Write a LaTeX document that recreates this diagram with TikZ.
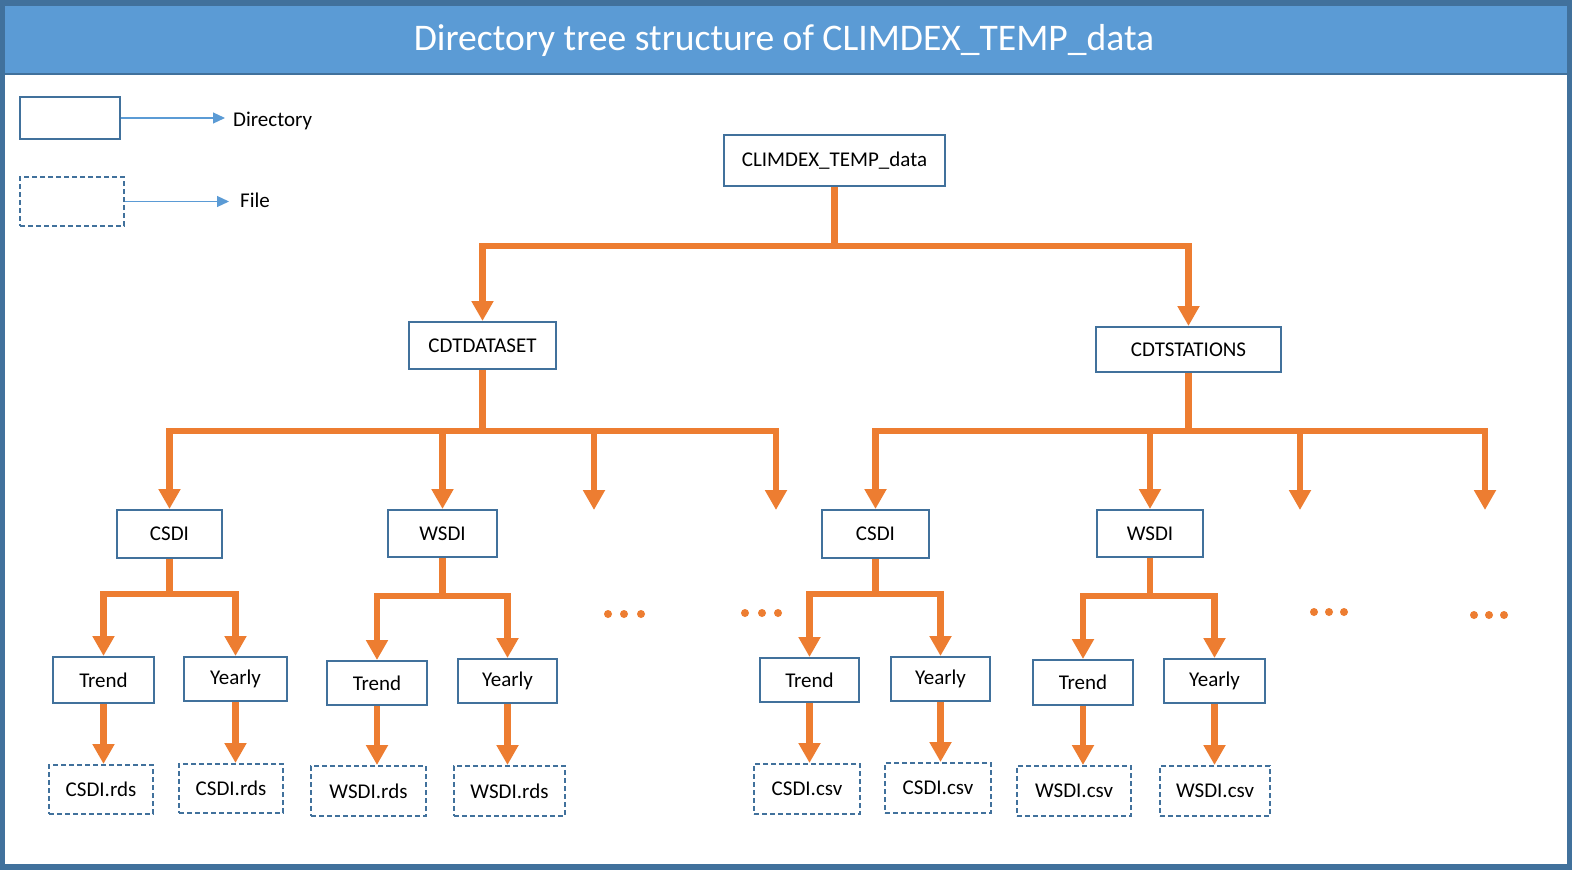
\documentclass[tikz,border=0pt]{standalone}
\usepackage{fontspec}
\setmainfont{Carlito}
\usetikzlibrary{arrows.meta}
\definecolor{frame}{HTML}{41719C}
\definecolor{titlebg}{HTML}{5B9BD5}
\definecolor{org}{HTML}{ED7D31}
\tikzset{
  dirbox/.style={draw=frame, line width=2pt, inner sep=0pt, font=\fontsize{21}{25}\selectfont, fill=white},
  filebox/.style={dirbox, dash pattern=on 5pt off 3pt},
  conn/.style={draw=org, line width=6.5pt, -{Triangle[length=20pt,width=21pt]}},
  legarrow/.style={draw=titlebg, line width=1.2pt, -{Triangle[length=12pt,width=11pt]}},
  dot/.style={fill=org, draw=none}
}
\newcommand{\bx}[6]{\node[#1, minimum width=#4pt, minimum height=#5pt] (#2) at (#3) {#6};}
\begin{document}
\begin{tikzpicture}[x=1pt,y=-1pt]
\useasboundingbox (0,0) rectangle (1572,870);
% frame
\fill[frame] (0,0) rectangle (1572,870);
\fill[titlebg] (5,6) rectangle (1567,73);
\fill[white] (5,75) rectangle (1567,864);
\node[text=white, font=\fontsize{37.6}{44}\selectfont, anchor=center] (title) at (784,40) {Directory tree structure of CLIMDEX\_TEMP\_data};
% legend
\bx{dirbox}{legd}{70,118}{100}{42}{}
\bx{filebox}{legf}{72,201.5}{104}{49}{}
\node[anchor=west, inner sep=0pt, font=\fontsize{21}{25}\selectfont] (ldir) at (233,121) {Directory};
\node[anchor=west, inner sep=0pt, font=\fontsize{21}{25}\selectfont] (lfile) at (240,200) {File};
\draw[legarrow, shorten >=8pt] (legd.east) -- (legd.east -| ldir.west);
\draw[legarrow, shorten >=11pt] (legf.east) -- (legf.east -| lfile.west);
% nodes
\bx{dirbox}{root}{834.5,160.5}{221}{51}{CLIMDEX\_TEMP\_data}
\bx{dirbox}{cdtd}{482.5,345.5}{147}{47}{CDTDATASET}
\bx{dirbox}{cdts}{1188.5,349.5}{185}{45}{CDTSTATIONS}
\bx{dirbox}{csdiL}{169.5,534}{105}{48}{CSDI}
\bx{dirbox}{wsdiL}{442.5,533.5}{109}{47}{WSDI}
\bx{dirbox}{csdiR}{875.5,534}{107}{48}{CSDI}
\bx{dirbox}{wsdiR}{1150,533.5}{106}{47}{WSDI}
\bx{dirbox}{t1}{103.5,680}{101}{46}{Trend}
\bx{dirbox}{y1}{235.5,679}{103}{44}{Yearly}
\bx{dirbox}{t2}{377,683}{100}{44}{Trend}
\bx{dirbox}{y2}{507.5,681}{99}{44}{Yearly}
\bx{dirbox}{t3}{809.5,680}{99}{44}{Trend}
\bx{dirbox}{y3}{940.5,679}{99}{44}{Yearly}
\bx{dirbox}{t4}{1083,682.5}{100}{45}{Trend}
\bx{dirbox}{y4}{1214.5,681}{101}{44}{Yearly}
\bx{filebox}{f1}{101,789.5}{104}{49}{CSDI.rds}
\bx{filebox}{f2}{231,788.5}{104}{49}{CSDI.rds}
\bx{filebox}{f3}{368.5,791}{115}{50}{WSDI.rds}
\bx{filebox}{f4}{509.5,791}{111}{50}{WSDI.rds}
\bx{filebox}{f5}{807,789}{106}{50}{CSDI.csv}
\bx{filebox}{f6}{938,788}{106}{50}{CSDI.csv}
\bx{filebox}{f7}{1074,791}{114}{50}{WSDI.csv}
\bx{filebox}{f8}{1215,791}{110}{50}{WSDI.csv}
\coordinate (d1) at (594,510);
\coordinate (d2) at (776,510);
\coordinate (d3) at (1300,510);
\coordinate (d4) at (1485,510);
% connectors
\draw[conn] (root.south) -- ++(0,59) -| (cdtd.north);
\draw[conn] (root.south) -- ++(0,59) -| (cdts.north);
\foreach \c in {csdiL,wsdiL,d1,d2}{\draw[conn] (cdtd.south) -- ++(0,61) -| (\c.north);}
\foreach \c in {csdiR,wsdiR,d3,d4}{\draw[conn] (cdts.south) -- ++(0,58) -| (\c.north);}
\foreach \p/\a/\b/\d in {csdiL/t1/y1/35, wsdiL/t2/y2/38, csdiR/t3/y3/35, wsdiR/t4/y4/38}{
  \draw[conn] (\p.south) -- ++(0,\d) -| (\a.north);
  \draw[conn] (\p.south) -- ++(0,\d) -| (\b.north);
}
\foreach \a/\b in {t1/f1, y1/f2, t2/f3, y2/f4, t3/f5, y3/f6, t4/f7, y4/f8}{
  \draw[conn] (\a.south) -- (\a.south |- \b.north);
}
% ellipses
\foreach \x/\y in {608/614, 624/614, 641/614, 745/613, 762/613, 778/613, 1314/612, 1329/612, 1344/612, 1474/615, 1489/615, 1504/615}{
  \fill[dot] (\x,\y) circle (4);
}
\end{tikzpicture}
\end{document}
